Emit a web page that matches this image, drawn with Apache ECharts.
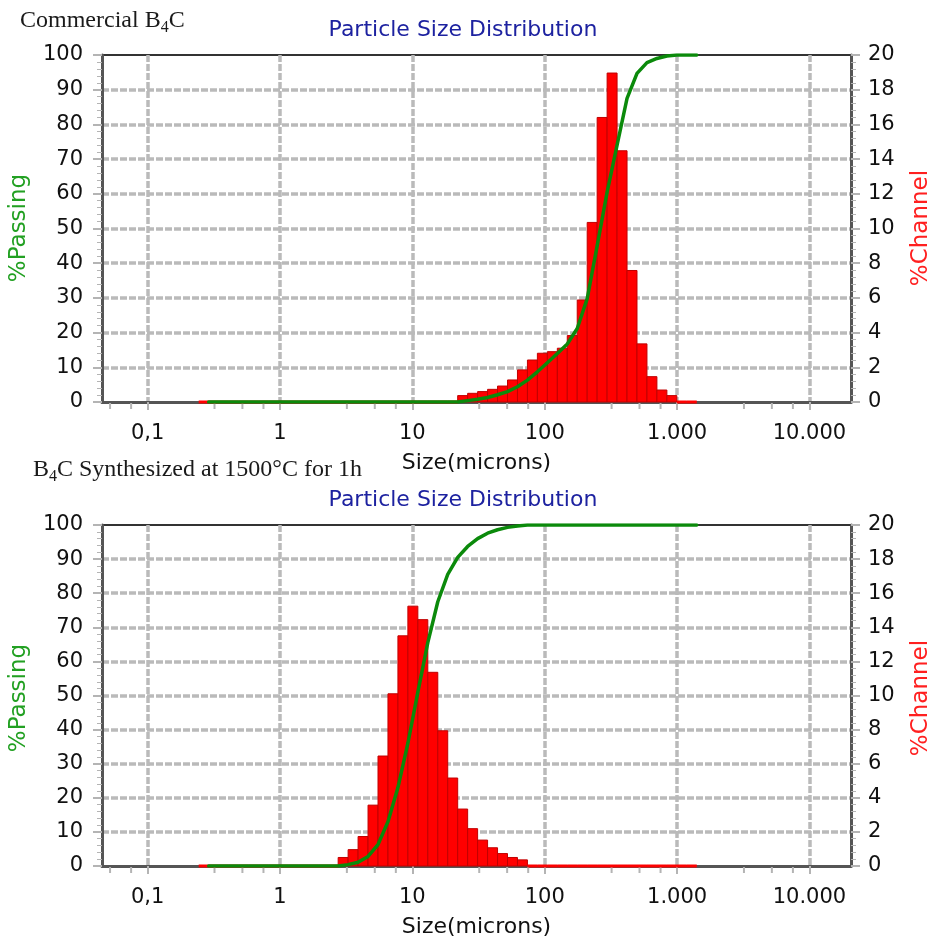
<!DOCTYPE html>
<html>
<head>
<meta charset="utf-8">
<script src="https://cdn.jsdelivr.net/npm/echarts@6/dist/echarts.min.js"></script>
<style>
html, body { margin: 0; padding: 0; background: #fff; }
#main { width: 929px; height: 939px; }
</style>
</head>
<body>
<div id="main"></div>
<script>
// Microtrac channel edges (microns)
var channelEdges = [0.243, 0.289, 0.344, 0.409, 0.486, 0.578, 0.688, 0.818, 0.972, 1.156,
    1.375, 1.635, 1.945, 2.312, 2.75, 3.27, 3.889, 4.625, 5.5, 6.541,
    7.778, 9.25, 11, 13.08, 15.56, 18.5, 22, 26.16, 31.11, 37,
    44, 52.33, 62.23, 74, 88, 104.7, 124.5, 148, 176, 209.3,
    248.9, 296, 352, 418.6, 497.8, 592, 704, 837.2, 995.6, 1184, 1408];

// %Channel per bin (bin i = edge i .. edge i+1)
var commercialChannel = [0, 0, 0, 0, 0, 0, 0, 0, 0, 0,
    0, 0, 0, 0, 0, 0, 0, 0, 0, 0,
    0, 0, 0, 0, 0, 0, 0.37, 0.5, 0.6, 0.73,
    0.92, 1.27, 1.85, 2.42, 2.81, 2.9, 3.1, 3.83, 5.88, 10.35,
    16.4, 18.96, 14.48, 7.58, 3.35, 1.46, 0.69, 0.37, 0, 0];
var synthChannel = [0, 0, 0, 0, 0, 0, 0, 0, 0, 0,
    0, 0, 0, 0, 0.5, 0.96, 1.73, 3.57, 6.45, 10.1,
    13.5, 15.24, 14.45, 11.36, 7.93, 5.16, 3.34, 2.19, 1.52, 1.07,
    0.73, 0.5, 0.36, 0, 0, 0, 0, 0, 0, 0,
    0, 0, 0, 0, 0, 0, 0, 0, 0, 0];

// %Passing at channel edges 1..50 (0.289 .. 1408)
var commercialPassing = [0, 0, 0, 0, 0, 0, 0, 0, 0, 0,
    0, 0, 0, 0, 0, 0, 0, 0, 0, 0,
    0, 0, 0, 0, 0, 0, 0.4, 0.8, 1.3, 2.1,
    3.0, 4.4, 6.3, 8.7, 11.3, 14, 16.7, 21.2, 29.8, 45,
    60.5, 74, 87.5, 94.7, 97.8, 99, 99.7, 100, 100, 100];
var synthPassing = [0, 0, 0, 0, 0, 0, 0, 0, 0, 0,
    0, 0, 0, 0, 0.4, 1.1, 2.8, 6.3, 13, 23,
    36, 51, 65.5, 77.5, 85.5, 90.5, 93.7, 96, 97.6, 98.6,
    99.3, 99.7, 100, 100, 100, 100, 100, 100, 100, 100,
    100, 100, 100, 100, 100, 100, 100, 100, 100, 100];

var xTickValues = [0.1, 1, 10, 100, 1000, 10000];
var xTickLabels = ['0,1', '1', '10', '100', '1.000', '10.000'];
var minorFactors = [3.2, 5.2, 7.5];
var xMin = 0.0452, xMax = 20600;

var fontSans = 'DejaVu Sans';
var chart = echarts.init(document.getElementById('main'));

function binData(values) {
    var out = [];
    for (var i = 0; i < values.length; i++) {
        out.push([channelEdges[i], channelEdges[i + 1], values[i]]);
    }
    return out;
}
function passData(values) {
    var out = [];
    for (var i = 0; i < values.length; i++) {
        out.push([channelEdges[i + 1], values[i]]);
    }
    return out;
}
var minorTicks = [];
[0.01, 0.1, 1, 10, 100, 1000, 10000].forEach(function (d) {
    minorFactors.forEach(function (f) {
        var v = d * f;
        if (v > xMin && v < xMax) minorTicks.push([v, 0]);
    });
});

function barItem(params, api) {
    var lo = api.value(0), hi = api.value(1), v = api.value(2);
    var p0 = api.coord([lo, 0]);
    var p1 = api.coord([hi, v]);
    if (v <= 0) {
        return { type: 'rect', shape: { x: p0[0], y: p0[1] - 1.5, width: p1[0] - p0[0], height: 3 },
            style: { fill: '#ff0000' } };
    }
    return { type: 'rect', shape: { x: p0[0], y: p1[1], width: p1[0] - p0[0], height: p0[1] - p1[1] },
        style: { fill: '#ff0000', stroke: '#c00000', lineWidth: 1 } };
}
function minorTickItem(params, api) {
    var p = api.coord([api.value(0), 0]);
    return { type: 'line', shape: { x1: p[0], y1: p[1] + 1, x2: p[0], y2: p[1] + 7 },
        style: { stroke: '#b4b4b4', lineWidth: 2 } };
}

function xLabel(v) {
    for (var i = 0; i < xTickValues.length; i++) {
        if (Math.abs(v / xTickValues[i] - 1) < 1e-6) return xTickLabels[i];
    }
    return '';
}

var gridLine = { show: true, showMinLine: false, showMaxLine: false,
    lineStyle: { color: '#bababa', width: 3.5, type: [7, 2] } };

function xAxisFor(g) {
    return {
        type: 'log', gridIndex: g, min: xMin, max: xMax, logBase: 10,
        name: 'Size(microns)', nameLocation: 'middle', nameGap: 50,
        nameTextStyle: { fontFamily: fontSans, fontSize: 22, color: '#111' },
        axisLine: { show: true, lineStyle: { color: '#555', width: 3 } },
        axisTick: { show: true, length: 8, lineStyle: { color: '#b4b4b4', width: 2 } },
        axisLabel: { formatter: xLabel, margin: 21, fontFamily: fontSans, fontSize: 21, color: '#111',
            showMinLabel: false, showMaxLabel: false },
        splitLine: gridLine,
        minorTick: { show: false }
    };
}
function yAxesFor(g) {
    return [{
        type: 'value', gridIndex: g, min: 0, max: 100, interval: 10, position: 'left',
        axisLine: { show: true, lineStyle: { color: '#555', width: 3 } },
        axisTick: { show: true, length: 9, lineStyle: { color: '#b4b4b4', width: 2 } },
        minorTick: { show: true, splitNumber: 5, length: 5, lineStyle: { color: '#b4b4b4', width: 1 } },
        axisLabel: { margin: 19, fontFamily: fontSans, fontSize: 21, color: '#111' },
        splitLine: gridLine
    }, {
        type: 'value', gridIndex: g, min: 0, max: 20, interval: 2, position: 'right',
        axisLine: { show: true, lineStyle: { color: '#555', width: 3 } },
        axisTick: { show: true, length: 9, lineStyle: { color: '#b4b4b4', width: 2 } },
        minorTick: { show: true, splitNumber: 5, length: 5, lineStyle: { color: '#b4b4b4', width: 1 } },
        axisLabel: { margin: 17, fontFamily: fontSans, fontSize: 21, color: '#111' },
        splitLine: { show: false }
    }];
}

function seriesFor(g, channel, passing) {
    return [{
        type: 'custom', xAxisIndex: g, yAxisIndex: g * 2 + 1,
        renderItem: barItem, data: binData(channel), encode: { x: [0, 1], y: 2 }, z: 3
    }, {
        type: 'line', xAxisIndex: g, yAxisIndex: g * 2,
        data: passData(passing), showSymbol: false, smooth: false,
        lineStyle: { color: '#0b8a0b', width: 3.5, join: 'round', cap: 'round' }, z: 4
    }, {
        type: 'custom', xAxisIndex: g, yAxisIndex: g * 2, clip: false,
        renderItem: minorTickItem, data: minorTicks, encode: { x: 0, y: 1 }, z: 1, silent: true
    }];
}

function vText(text, x, y, color) {
    return { type: 'text', x: x, y: y, rotation: Math.PI / 2,
        style: { text: text, fill: color, font: '23px "DejaVu Sans"', align: 'center', verticalAlign: 'middle' } };
}

var caption = { fontFamily: 'Liberation Serif', fontSize: 24, fontWeight: 'normal', color: '#1a1a1a' };
var captionSub = { fontFamily: 'Liberation Serif', fontSize: 16, fontWeight: 'normal', color: '#1a1a1a',
    verticalAlign: 'bottom', padding: [0, 0, -3, 0] };
var option = {
    animation: false,
    backgroundColor: '#fff',
    title: [{
        text: 'Particle Size Distribution', left: 458, top: 14, textAlign: 'center',
        textStyle: { fontFamily: fontSans, fontSize: 22, fontWeight: 'normal', color: '#1d22a0' }
    }, {
        text: 'Particle Size Distribution', left: 458, top: 484, textAlign: 'center',
        textStyle: { fontFamily: fontSans, fontSize: 22, fontWeight: 'normal', color: '#1d22a0' }
    }, {
        text: '{a|Commercial B}{s|4}{a|C}', left: 15, top: 4,
        textStyle: { fontWeight: 'normal', rich: { a: caption, s: captionSub } }
    }, {
        text: '{a|B}{s|4}{a|C Synthesized at 1500°C for 1h}', left: 28, top: 453,
        textStyle: { fontWeight: 'normal', rich: { a: caption, s: captionSub } }
    }],
    grid: [
        { left: 102, right: 78, top: 55, height: 347, show: true, borderColor: '#333', borderWidth: 2, backgroundColor: '#fff' },
        { left: 102, right: 78, top: 525, height: 347, show: true, borderColor: '#333', borderWidth: 2, backgroundColor: '#fff' }
    ],
    xAxis: [xAxisFor(0), xAxisFor(1)],
    yAxis: yAxesFor(0).concat(yAxesFor(1)),
    series: seriesFor(0, commercialChannel, commercialPassing).concat(seriesFor(1, synthChannel, synthPassing)),
    graphic: [
        vText('%Passing', 19, 228, '#22a022'),
        vText('%Passing', 19, 698, '#22a022'),
        vText('%Channel', 921, 228, '#ff2020'),
        vText('%Channel', 921, 698, '#ff2020')
    ]
};
chart.setOption(option);
</script>
</body>
</html>
